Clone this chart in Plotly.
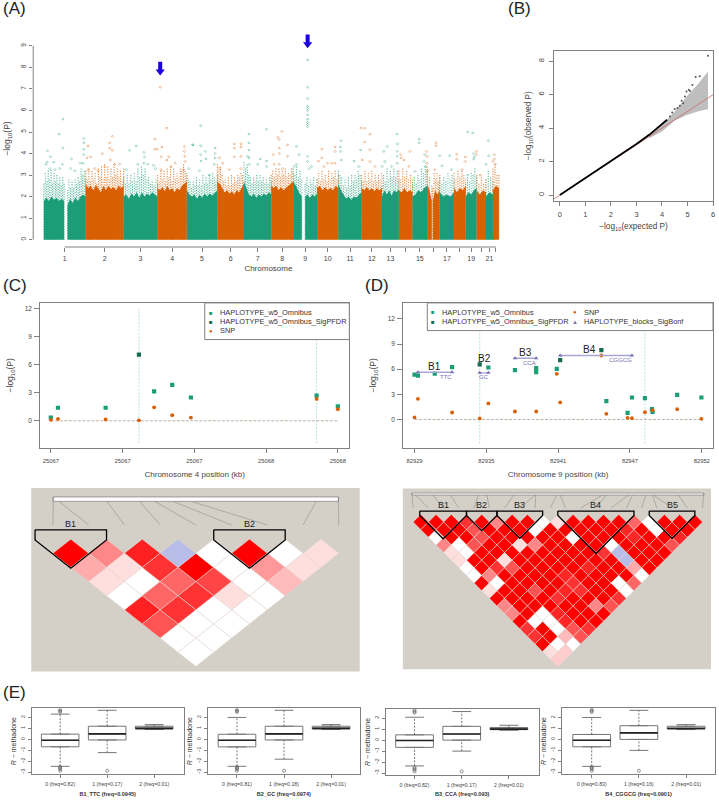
import plotly.graph_objects as go
import numpy as np

W, H = 719, 800
GREEN, ORANGE, DARK, PURPLE = "#1B9E77", "#D95F02", "#14694F", "#7570B3"
TXT, FRAME = "#444444", "#808080"

# ---------- A: Manhattan ----------
chrom_lengths = [252,228,204,176,184,160,164,132,144,128,140,122,102,82,88,76,86,70,66,56,42,36]
chrom_labelled = [1,2,3,4,5,6,7,8,9,10,11,12,13,15,17,19,21]
band_start = [0,142,252,480,684,860,1044,1204,1368,1500,1572,1644,1772,1912,2034,2136,2218,2306,2340,2382,2468,2538,2604,2660,2702]
band_end   = [122,252,480,684,860,1044,1204,1368,1500,1552,1644,1772,1912,2034,2136,2218,2306,2334,2382,2468,2538,2604,2660,2702,2738]
band_chrom = [1,1,2,3,4,5,6,7,8,9,9,10,11,12,13,14,15,16,16,17,18,19,20,21,22]
band_solid = [
 [1.8,1.95,1.8,2.0,1.85,1.95,1.8,1.9,1.8],
 [1.6,1.9,1.7,1.95,1.8,2.0,2.1,2.0],
 [2.6,2.4,2.5,2.3,2.55,2.35,2.2,2.5,2.3,2.5,2.35,2.45,2.3,2.5,2.4,2.5],
 [2.0,2.1,1.9,2.15,2.0,2.2,1.95,2.2,2.0,2.15,2.05,2.2,2.1,2.0],
 [2.4,2.3,2.45,2.25,2.5,2.3,2.4,2.2,2.4,2.3,2.5,2.6,2.7],
 [2.3,2.1,2.0,2.1,1.9,2.1,1.95,2.15,2.0,2.15,2.05,2.2,2.3],
 [2.7,2.6,2.4,2.2,2.3,2.15,2.25,2.1,2.3,2.2,2.4,2.6],
 [2.7,2.4,2.1,2.0,2.15,1.95,2.1,2.0,2.15,2.05,2.2,2.1],
 [2.5,2.4,2.5,2.3,2.45,2.3,2.4,2.5,2.6,2.7],
 [2.7,2.5,2.2,2.0],
 [2.0,2.1,1.95,2.1,2.0,2.15],
 [2.4,2.5,2.3,2.45,2.3,2.4,2.3,2.5,2.4],
 [2.6,2.3,2.1,1.9,2.0,1.85,2.0,1.95,2.1,2.2],
 [2.4,2.3,2.45,2.3,2.4,2.25,2.4,2.3,2.4],
 [2.0,2.3,2.1,2.3,2.05,2.3,2.2,2.35],
 [2.3,2.2,2.4,2.2,2.3,2.2],
 [2.0,2.1,2.3,2.2,2.4,2.5],
 [2.6,2.3,1.8],
 [1.8,2.3,2.1,2.3],
 [2.2,2.0,2.1,2.0,2.2],
 [2.4,2.2,2.4,2.3,2.5],
 [2.0,2.2,2.1,2.3,2.4],
 [2.3,2.1,2.3,2.2],
 [2.0,2.2,2.1],
 [2.3,2.5,2.4],
]
band_fuzz = [
 [2.6,3.1,2.7,3.2,2.8,3.25,2.6,3.1,2.7,3.0,2.6,2.9,2.5,2.9,2.6],
 [2.3,2.8,2.4,2.7,2.4,2.8,2.6,2.9,2.7,3.3,3.0,3.2,2.8],
 [3.2,2.8,3.3,2.7,3.2,2.8,3.1,2.6,3.3,2.9,3.4,2.8,3.5,2.9,3.4,2.8,3.3,2.9,3.5,3.0,3.3,2.9,3.2,2.7,3.3],
 [2.9,2.6,3.0,2.6,3.0,2.7,3.1,2.7,3.3,2.9,3.4,3.0,3.3,2.8,2.9,2.6,2.7,2.5,2.8,2.6],
 [3.0,2.7,3.2,2.8,3.2,2.7,3.3,2.9,3.4,2.7,3.3,2.8,3.1,2.8,3.3,3.2,3.5,3.2,3.0],
 [3.1,2.8,2.7,2.4,2.7,2.5,2.9,2.5,2.8,2.5,3.0,2.6,2.9,2.6,3.0,2.8,3.1,2.9,2.7,3.0],
 [3.5,3.2,3.4,3.0,2.7,2.8,2.5,2.9,2.5,3.0,2.6,2.9,2.7,3.0,2.9,3.1,3.0,2.7],
 [3.6,3.3,3.5,3.0,2.9,2.6,2.9,2.7,3.0,2.7,3.0,2.7,2.9,2.6,2.8,2.6,2.9,2.7],
 [3.0,3.2,2.9,3.3,3.0,3.3,2.9,3.2,3.0,3.3,2.9,3.1,3.0,3.3,3.1],
 [3.3,3.0,3.4,2.9,3.2,2.8],
 [2.6,2.9,2.5,2.8,2.6,2.9,2.5,2.8],
 [2.8,3.1,2.7,3.2,2.8,3.0,2.7,3.2,2.8,3.1,2.9,3.2,2.8,3.0],
 [3.2,3.0,2.9,2.5,2.8,2.4,2.9,2.5,3.0,2.7,3.0,2.8,3.2,3.0,2.7],
 [3.0,2.7,3.2,2.7,3.1,2.8,3.2,2.7,3.0,2.7,3.0,2.8,3.1],
 [2.5,3.0,2.7,3.3,2.8,3.2,2.9,3.3,2.9,3.2,2.8],
 [3.2,2.8,3.3,2.9,3.2,2.8,3.0,2.8],
 [2.6,2.9,2.6,3.0,2.8,3.3,3.1,3.4,3.2],
 [3.4,2.9,2.5],
 [2.4,3.1,2.8,3.1,2.7,3.0],
 [2.9,2.6,2.9,2.7,3.1,2.8,3.0,2.8],
 [3.1,2.8,3.2,2.9,3.2,3.0,2.8],
 [2.6,2.9,2.7,3.1,3.0,3.3,2.9],
 [3.0,2.6,2.9,2.6,2.8],
 [2.8,3.2,2.9,2.7],
 [3.3,3.5,3.0,3.0],
]
green_x = [114,92,114,22,20,40,60,66,12,96,112,36,166,160,240,240,240,240,236,220,186,
 516,556,602,606,602,566,626,660,496,672,
 896,944,896,944,944,946,972,976,1030,1030,1030,1026,872,936,996,
 1234,1234,1234,1226,1234,1302,1340,1340,1286,1340,1236,
 1520,1536,1520,1506,
 1587,1587,1587,1587,1587,1587,1587,1587,1587,1587,1587,1586,1586,1596,1610,
 1788,1784,1786,1790,1866,1896,1906,
 2126,2128,2066,2046,2126,2126,2126,2052,2036,2092,
 2258,2258,2292,2288,2296,2232,
 2382,2442,2396,2452,
 2550,2580,2586,2590,2586,2550,
 2674,2676,2660]
green_y = [5.6,4.9,4.25,4.13,3.6,3.85,3.6,3.25,3.5,3.3,3.5,3.3,3.75,3.3,4.7,4.5,4.2,3.95,3.55,3.55,3.2,
 4.15,4.35,4.05,3.85,3.55,3.5,3.5,3.45,3.25,3.3,
 4.4,5.29,4.4,4.36,3.95,3.65,4.1,3.75,4.25,4.0,3.8,3.5,3.3,3.2,3.0,
 4.9,4.5,4.17,3.87,3.8,3.75,5.13,3.65,3.5,3.4,3.5,
 4.33,3.95,3.5,3.4,
 8.35,7.08,6.55,6.2,6.1,6.0,5.8,5.6,5.45,5.35,5.25,3.87,3.63,3.3,3.4,
 4.6,4.3,4.1,3.7,3.65,3.4,4.17,
 4.9,4.45,4.33,4.1,4.1,3.87,3.55,3.63,3.4,3.4,
 4.67,4.5,3.95,3.63,3.4,3.17,
 3.9,3.9,3.43,3.25,
 5.0,4.95,4.0,3.84,3.74,3.0,
 4.6,3.9,3.5]
orange_x = [266,260,282,352,412,396,396,412,400,306,366,426,456,326,266,
 668,668,682,740,710,706,752,740,846,846,848,850,840,790,766,706,700,
 1056,1076,1146,1146,1146,1186,1186,1186,1186,1116,1056,
 1432,1408,1416,1466,1416,1416,1380,1466,1416,1386,1436,
 1672,1672,1652,1752,1752,1706,1732,1752,1686,
 1908,1930,1930,1962,1962,1916,1962,1992,
 2202,2146,2166,2150,2196,
 2302,2306,2360,2360,2306,2352,2310,
 2484,2484,2536,2536,2516,
 2602,2602,2626,
 2710,2710,2702,2716]
orange_y = [4.35,3.8,3.85,4.0,4.8,4.5,4.25,4.15,3.7,3.3,3.4,3.5,3.5,3.2,3.25,
 4.67,4.2,4.2,5.18,4.3,3.85,3.85,3.7,4.33,4.1,3.87,3.63,3.25,3.55,3.4,3.25,7.08,
 3.8,3.55,4.45,4.25,3.85,4.45,4.3,3.87,3.3,3.25,3.3,
 5.03,4.75,4.65,4.4,4.25,4.0,3.95,3.87,3.5,3.5,3.3,
 4.2,3.8,3.65,4.3,4.1,3.55,3.55,3.55,3.4,
 5.18,5.18,4.53,4.9,4.18,3.7,3.63,3.4,
 4.1,3.95,3.7,3.8,3.4,
 4.1,3.87,4.5,4.36,3.55,3.25,3.2,
 3.97,3.74,3.84,3.63,3.25,
 4.1,3.95,3.0,
 3.95,3.74,3.63,3.5]
arrow_x = [700, 1587]
arrow_y = [7.08, 8.35]

# ---------- B: QQ ----------
qq_line_exp = [0,1,2,3,3.5,4,4.2]
qq_line_obs = [0,1,2,3.05,3.6,4.25,4.5]
qq_pts_exp = [4.31,4.4,4.5,4.61,4.7,4.77,4.83,4.9,4.96,5.05,5.1,5.19,5.32,5.48,5.8]
qq_pts_obs = [4.7,4.93,5.15,5.2,5.33,5.63,5.49,5.89,6.19,6.29,6.22,6.57,7.06,7.1,8.32]
qq_band_exp = [3.5,4,4.5,5,5.4,5.8]
qq_band_hi  = [3.6,4.2,5.0,5.95,6.6,7.38]
qq_band_lo  = [3.4,3.8,4.45,4.8,5.0,5.15]

# ---------- C ----------
c_pos = [25066.75,25066.775,25066.941,25067.057,25067.110,25067.173,25067.238,25067.676,25067.75]
c_hap = [0.35,1.4,1.4,None,3.15,3.85,2.5,2.7,1.55]
c_sig = [None,None,None,7.1,None,None,None,None,None]
c_snp = [0.1,0.2,0.15,0.05,1.45,0.6,0.35,2.35,1.25]
c_vlines = [25067.057,25067.676]
c_ticks = [25066.75,25067,25067.25,25067.5,25067.75]
c_ticktext = ["25067","25067","25067","25068","25068"]

# ---------- D ----------
d_hap_x = [82929.40,82929.67,82931.02,82932.41,82935.31,82937.44,82939.14,82939.14,82940.79,82944.76,82946.46,82946.81,82947.85,82948.41,82948.46,82950.43,82952.37]
d_hap_y = [5.36,5.24,5.48,6.24,6.2,5.88,6.12,5.64,6.04,2.19,0.79,2.62,2.54,1.23,0.91,2.94,2.62]
d_sig_x = [82934.62,82941.06,82944.36]
d_sig_y = [6.56,7.07,8.26]
d_snp_x = [82929.40,82929.67,82932.41,82934.62,82935.31,82937.44,82939.14,82940.79,82941.06,82944.36,82944.76,82946.46,82946.81,82947.85,82948.46,82950.43,82952.37]
d_snp_y = [0.24,2.46,0.83,0.12,1.91,0.95,0.95,5.44,2.03,7.63,0.68,0.2,0.16,0.87,1.11,1.23,0.08]
d_vlines = [82934.62,82947.85]
d_ticks = [82929.4,82935.15,82940.9,82946.65,82952.4]
d_ticktext = ["82929","82935","82941","82947","82952"]
d_block_start = [82929.67,82934.62,82937.44,82941.06]
d_block_end   = [82932.41,82935.31,82939.14,82946.81]
d_block_y     = [5.64,5.56,7.31,7.63]
d_block_name  = ["B1","B2","B3","B4"]
d_block_hap   = ["TTC","GC","CCA","CGGCG"]

# ---------- LD ----------
ld_c = [
 [100,47,87,-1,0,100,0,13],
 [33,13,80,100,0,40,13],
 [13,0,60,73,0,27],
 [0,60,80,13,0],
 [87,80,0,0],
 [67,0,0],
 [0,0],
 [0],
]
ld_c_markers = [-0.49,-0.33,1.01,1.93,2.35,2.86,3.37,6.87,7.49]
ld_c_blocks = [(-1,1,"B1"),(4,6,"B2")]
ld_d = [
 [100,100,100,80,100,47,100,100,0,13,100,100,100,100,60,0,100,100,100],
 [100,100,100,67,100,100,100,0,100,100,100,100,100,85,100,0,100,100],
 [0,100,100,67,100,100,100,100,100,0,100,100,100,85,100,100,85],
 [47,0,67,100,100,13,47,100,100,100,100,0,100,100,100,67],
 [13,0,100,100,100,100,100,100,100,100,80,-1,100,100,100],
 [13,100,100,13,100,100,100,100,100,100,100,-1,100,100],
 [0,100,80,67,100,100,100,100,85,100,100,33,100],
 [0,47,100,100,100,100,85,100,100,100,100,0],
 [100,0,100,100,100,100,80,100,100,0,60],
 [13,100,100,67,100,85,80,100,100,0],
 [100,100,100,100,80,100,100,100,80],
 [47,100,100,100,100,100,47,67],
 [47,100,0,85,100,100,100],
 [100,0,0,85,100,100],
 [80,100,0,67,80],
 [80,100,27,67],
 [100,0,0],
 [13,20],
 [20],
]
ld_d_markers = [-0.57,-0.35,0.79,1.94,3.78,4.34,6.11,7.51,7.55,8.93,9.15,11.92,12.2,13.65,13.91,14.78,15.22,15.28,16.92,18.58]
ld_d_blocks = [(-0.07,3,"B1"),(3,5,"B2"),(5,8,"B3"),(9,14,"B4"),(15,18,"B5")]

# ---------- E ----------
box_titles = ["B1_TTC (freq=0.0945)","B2_GC (freq=0.0974)","B3_CCA (freq=0.093)","B4_CGGCG (freq=0.0901)"]
box_cats = [["0 (freq=0.82)","1 (freq=0.17)","2 (freq=0.01)"],
            ["0 (freq=0.81)","1 (freq=0.18)","2 (freq=0.01)"],
            ["0 (freq=0.82)","1 (freq=0.17)","2 (freq=0.01)"],
            ["0 (freq=0.83)","1 (freq=0.16)","2 (freq=0.01)"]]
box_q1  = [[-0.67,-0.05,0.95],[-0.68,-0.05,0.95],[-0.66,0.0,0.95],[-0.67,0.0,0.95]]
box_med = [[-0.08,0.5,1.0],[-0.08,0.5,1.0],[-0.03,0.55,1.0],[-0.08,0.6,1.0]]
box_q3  = [[0.48,1.2,1.2],[0.47,1.2,1.2],[0.48,1.25,1.15],[0.45,1.25,1.2]]
box_hi  = [[2.3,2.65,1.35],[2.0,2.65,1.35],[2.08,2.6,1.35],[2.0,2.65,1.35]]
box_lo  = [[-2.45,-1.2,0.9],[-2.45,-1.8,0.9],[-2.35,-1.0,0.9],[-2.45,-1.0,0.9]]
box_out_cat = [0,0,0,0,0,0,0,1]
box_out_val = [2.7,2.6,2.5,-2.5,-2.6,-2.7,-2.85,-2.85]

# ---------- layout helpers ----------
def dx(l, r): return [l / W, r / W]
def dy(t, b): return [1 - b / H, 1 - t / H]

fig = go.Figure()
shapes, notes = [], []

def note(px, py, text, size=7, color=TXT, anchor="center", **kw):
    notes.append(dict(x=px / W, y=1 - py / H, xref="paper", yref="paper", text=text, showarrow=False,
                      xanchor=anchor, yanchor="middle", font=dict(size=size, color=color), **kw))

def rgb(a, alpha=1.0):
    a = a.lstrip("#")
    return "rgba(%d,%d,%d,%g)" % (int(a[:2],16), int(a[2:4],16), int(a[4:],16), alpha)

# A: stippled columns up to the read envelope, drawn from the top down so the dots do not line up
comb = {GREEN: ([], []), ORANGE: ([], [])}
for s, e, c, fuz in zip(band_start, band_end, band_chrom, band_fuzz):
    col = GREEN if c % 2 else ORANGE
    for xv, yv in zip(np.linspace(s, e, len(fuz)), fuz):
        comb[col][0].extend([xv, xv, None])
        comb[col][1].extend([yv, 0, None])
for col, (xv, yv) in comb.items():
    fig.add_trace(go.Scatter(x=xv, y=yv, mode="lines", line=dict(color=rgb(col, 0.7), width=1.1, dash="1.2px,1.3px"),
                             xaxis="x", yaxis="y", hoverinfo="skip"))
for s, e, c, sol in zip(band_start, band_end, band_chrom, band_solid):
    col = GREEN if c % 2 else ORANGE
    fig.add_trace(go.Scatter(x=np.linspace(s, e, len(sol)), y=sol, mode="lines", fill="tozeroy",
                             fillcolor=col, line=dict(width=0), xaxis="x", yaxis="y", hoverinfo="skip"))
fig.add_trace(go.Scatter(x=green_x, y=green_y, mode="markers", xaxis="x", yaxis="y",
                         marker=dict(symbol="diamond-open", size=1.7, color=GREEN, opacity=0.75, line=dict(width=0.6))))
fig.add_trace(go.Scatter(x=orange_x, y=orange_y, mode="markers", xaxis="x", yaxis="y",
                         marker=dict(symbol="diamond-open", size=1.7, color=ORANGE, opacity=0.75, line=dict(width=0.6))))
starts = np.cumsum([0] + chrom_lengths)
mids = (starts[:-1] + starts[1:]) / 2
for xv, top in zip(arrow_x, arrow_y):
    fig.add_trace(go.Scatter(x=[xv, xv], y=[top + 1.18, top + 0.73], mode="lines", line=dict(color="#1A00E0", width=4),
                             xaxis="x", yaxis="y", hoverinfo="skip"))
    fig.add_trace(go.Scatter(x=[xv], y=[top + 0.73], mode="markers", marker=dict(symbol="triangle-down", size=8, color="#1A00E0"),
                             xaxis="x", yaxis="y", hoverinfo="skip"))
shapes.append(dict(type="line", xref="x domain", yref="y", x0=0, x1=0, y0=0, y1=9, line=dict(color=FRAME, width=1)))
shapes.append(dict(type="line", xref="x", yref="y domain", x0=mids[0], x1=mids[-1], y0=0, y1=0, line=dict(color=FRAME, width=1)))

# B
fig.add_trace(go.Scatter(x=qq_band_exp + qq_band_exp[::-1], y=qq_band_hi + qq_band_lo[::-1], fill="toself", mode="none",
                         fillcolor="#BEBEBE", xaxis="x2", yaxis="y2", hoverinfo="skip"))
fig.add_trace(go.Scatter(x=[-0.3, 6.1], y=[-0.3, 6.1], mode="lines", line=dict(color="#C86A6A", width=0.8), xaxis="x2", yaxis="y2"))
fig.add_trace(go.Scatter(x=qq_line_exp, y=qq_line_obs, mode="lines", line=dict(color="black", width=1.8), xaxis="x2", yaxis="y2"))
fig.add_trace(go.Scatter(x=qq_pts_exp, y=qq_pts_obs, mode="markers", marker=dict(color="#555555", size=2), xaxis="x2", yaxis="y2"))

# C
def guide(xs, rng, ax, ay, x0, x1):
    xv, yv = [], []
    for v in xs:
        xv += [v, v, None]; yv += [rng[0], rng[1], None]
    fig.add_trace(go.Scatter(x=xv, y=yv, mode="lines", line=dict(color="#A8DACB", width=0.8, dash="2px,1.5px"), xaxis=ax, yaxis=ay))
    fig.add_trace(go.Scatter(x=[x0, x1], y=[0, 0], mode="lines", line=dict(color="#B9A99A", width=0.9, dash="3px,1.5px"), xaxis=ax, yaxis=ay))

guide(c_vlines, (-2.4, 12), "x3", "y3", c_pos[0], c_pos[-1])
sq = dict(symbol="square", size=4.2)
fig.add_trace(go.Scatter(x=c_pos, y=c_hap, mode="markers", marker=dict(color=GREEN, **sq), xaxis="x3", yaxis="y3"))
fig.add_trace(go.Scatter(x=c_pos, y=c_sig, mode="markers", marker=dict(color=DARK, **sq), xaxis="x3", yaxis="y3"))
fig.add_trace(go.Scatter(x=c_pos, y=c_snp, mode="markers", marker=dict(color=ORANGE, size=3.8), xaxis="x3", yaxis="y3"))

# D
guide(d_vlines, (-2.9, 13.9), "x4", "y4", 82929.4, 82952.4)
fig.add_trace(go.Scatter(x=d_hap_x, y=d_hap_y, mode="markers", marker=dict(color=GREEN, **sq), xaxis="x4", yaxis="y4"))
fig.add_trace(go.Scatter(x=d_sig_x, y=d_sig_y, mode="markers", marker=dict(color=DARK, **sq), xaxis="x4", yaxis="y4"))
fig.add_trace(go.Scatter(x=d_snp_x, y=d_snp_y, mode="markers", marker=dict(color=ORANGE, size=3.8), xaxis="x4", yaxis="y4"))
for s, e, y in zip(d_block_start, d_block_end, d_block_y):
    fig.add_trace(go.Scatter(x=[s, e], y=[y, y], mode="lines+markers", xaxis="x4", yaxis="y4",
                             line=dict(color="#A9A6D6", width=1.4), marker=dict(symbol="triangle-up", size=4, color=PURPLE)))
d_name_px = [(436, 367), (486, 358.5), (527, 353), (591, 350)]
d_hap_px = [(447, 377.5), (485, 377.5), (531, 363.5), (622, 360.5)]
for nm, (px, py) in zip(d_block_name, d_name_px):
    note(px, py, nm, size=10, color="#222222")
for nm, (px, py) in zip(d_block_hap, d_hap_px):
    note(px, py, nm, size=6, color=PURPLE)

# legends
def glyph(px, py, ch, col, size):
    note(px, py, ch, size=size, color=col)
def box_legend(x0, x1, y0, y1):
    shapes.append(dict(type="rect", xref="paper", yref="paper", x0=x0/W, x1=x1/W, y0=1-y1/H, y1=1-y0/H,
                       line=dict(color=FRAME, width=1), fillcolor="white", layer="above"))
box_legend(205.3, 350.3, 303.3, 340)
for (py, lab, ch, col) in [(313, "HAPLOTYPE_w5_Omnibus", "■", GREEN), (322, "HAPLOTYPE_w5_Omnibus_SigPFDR", "■", DARK), (331, "SNP", "●", ORANGE)]:
    glyph(212, py, ch, col, 6)
    note(218.5, py, lab, size=7.4, color="#333333", anchor="left")
box_legend(428.5, 715, 303.3, 331)
for (gx, py, lab, ch, col) in [(434.7, 312.5, "HAPLOTYPE_w5_Omnibus", "■", GREEN), (434.7, 322, "HAPLOTYPE_w5_Omnibus_SigPFDR", "■", DARK),
                               (576.7, 312.5, "SNP", "●", ORANGE), (576.7, 322, "HAPLOTYPE_blocks_SigBonf", "▲", PURPLE)]:
    glyph(gx, py, ch, col, 6)
    note(gx + 7, py, lab, size=7.4, color="#333333", anchor="left")

# LD
def ld_color(v):
    if v < 0:
        return "#B8BDE8"
    g = round(255 * (1 - v / 100))
    return "#ff%02x%02x" % (g, g)

def draw_ld(mat, markers, blocks, ax, ay, strip, conn_end, side_k, top_k, label_k):
    groups = {}
    for k, row in enumerate(mat):
        for m, v in enumerate(row):
            cx = m + k / 2
            px_, py_ = groups.setdefault(v, ([], []))
            px_ += [cx, cx + 0.5, cx, cx - 0.5, cx, None]
            py_ += [k - 1, k, k + 1, k, k - 1, None]
    for v, (px_, py_) in groups.items():
        fig.add_trace(go.Scatter(x=px_, y=py_, mode="lines", fill="toself", fillcolor=ld_color(v),
                                 line=dict(color="rgba(225,215,210,0.85)", width=0.6), xaxis=ax, yaxis=ay, hoverinfo="skip"))
    shapes.append(dict(type="rect", xref=ax, yref=ay, x0=markers[0], x1=markers[-1], y0=strip[0], y1=strip[1],
                       fillcolor="white", line=dict(color="#666666", width=0.6)))
    tx, ty, cx_, cy_ = [], [], [], []
    for i, p in enumerate(markers):
        tx += [p, p, None]; ty += [strip[0], strip[1], None]
        cx_ += [p, i - 0.5, None]; cy_ += [strip[1], conn_end, None]
    fig.add_trace(go.Scatter(x=cx_, y=cy_, mode="lines", line=dict(color="#9A9A94", width=0.7), xaxis=ax, yaxis=ay))
    fig.add_trace(go.Scatter(x=tx, y=ty, mode="lines", line=dict(color="#333333", width=0.7), xaxis=ax, yaxis=ay))
    for s, e, name in blocks:
        mid = (s + e) / 2
        fig.add_trace(go.Scatter(x=[s, e, e, mid, s, s], y=[top_k, top_k, side_k, side_k + (e - s), side_k, top_k], mode="lines",
                                 line=dict(color="black", width=1.3), xaxis=ax, yaxis=ay))
        notes.append(dict(x=mid, y=label_k, xref=ax, yref=ay, text=name, showarrow=False,
                          font=dict(size=9, color="#222222")))

for ax, ay in [("x5", "y5"), ("x6", "y6")]:
    shapes.append(dict(type="rect", xref=ax + " domain", yref=ay + " domain", x0=0, x1=1, y0=0, y1=1,
                       fillcolor="#D4D0C8", line=dict(width=0), layer="below"))
draw_ld(ld_c, ld_c_markers, ld_c_blocks, "x5", "y5", (-3.98, -3.67), -2.0, -0.94, -1.66, -2.05)
draw_ld(ld_d, ld_d_markers, ld_d_blocks, "x6", "y6", (-3.8, -3.54), -1.83, -0.87, -1.44, -2.2)

# E
box_geo = [("x7", "y7", 31.7, 184.3, 709.3, 775, -0.608, 2.63, -3.15, 2.82),
           ("x8", "y8", 208.3, 361, 709.3, 775, -0.622, 2.615, -3.15, 2.82),
           ("x9", "y9", 386.7, 540.3, 710, 775.7, -0.613, 2.634, -3.15, 2.82),
           ("x10", "y10", 564, 716.7, 709, 775, -0.62, 2.606, -3.15, 2.85)]
bw = 0.8
for i, g in enumerate(box_geo):
    ax, ay = g[0], g[1]
    whx, why, capx, capy, medx, medy = [], [], [], [], [], []
    for c in range(3):
        whx += [c, c, None, c, c, None]
        why += [box_lo[i][c], box_q1[i][c], None, box_q3[i][c], box_hi[i][c], None]
        capx += [c - bw/4, c + bw/4, None, c - bw/4, c + bw/4, None]
        capy += [box_lo[i][c], box_lo[i][c], None, box_hi[i][c], box_hi[i][c], None]
        medx += [c - bw/2, c + bw/2, None]
        medy += [box_med[i][c]] * 2 + [None]
    fig.add_trace(go.Scatter(x=whx, y=why, mode="lines", line=dict(color="#555555", width=0.8, dash="2px,1.5px"), xaxis=ax, yaxis=ay))
    fig.add_trace(go.Scatter(x=capx, y=capy, mode="lines", line=dict(color="#555555", width=0.8), xaxis=ax, yaxis=ay))
    fig.add_trace(go.Box(x=[0, 1, 2], q1=box_q1[i], median=box_med[i], q3=box_q3[i], lowerfence=box_q1[i], upperfence=box_q3[i],
                         width=bw, line=dict(color="#777777", width=1), fillcolor="white", boxpoints=False, xaxis=ax, yaxis=ay))
    fig.add_trace(go.Scatter(x=medx, y=medy, mode="lines", line=dict(color="#222222", width=1.6), xaxis=ax, yaxis=ay))
    fig.add_trace(go.Scatter(x=box_out_cat, y=box_out_val, mode="markers", xaxis=ax, yaxis=ay,
                             marker=dict(symbol="circle-open", size=3, color="#666666", line=dict(width=0.7))))

# panel letters
for px, py, t in [(1, 9, "(A)"), (507, 9, "(B)"), (1, 286, "(C)"), (364, 286, "(D)"), (1, 693, "(E)")]:
    note(px, py, t, size=17, color="#222222", anchor="left")

base = dict(showgrid=False, zeroline=False)
def tk(size=6.5, length=4, stand=2):
    return dict(ticks="outside", ticklen=length, tickwidth=1, tickcolor=FRAME, ticklabelstandoff=stand,
                tickfont=dict(size=size, color=TXT))
frame = dict(showline=True, mirror=True, linecolor=FRAME, linewidth=1)
hidden = dict(visible=False, showgrid=False, zeroline=False)
def ttl(text, size, standoff, color=TXT):
    return dict(text=text, font=dict(size=size, color=color), standoff=standoff)

lab_idx = [c - 1 for c in chrom_labelled]
layout = dict(
    width=W, height=H, margin=dict(l=0, r=0, t=0, b=0), paper_bgcolor="white", plot_bgcolor="rgba(0,0,0,0)",
    showlegend=False, hovermode=False, font=dict(family="Liberation Sans, Arial, sans-serif", color=TXT),
    xaxis=dict(domain=dx(33.3, 505), range=[-64, 2766], anchor="y", tickmode="array", tickvals=mids[lab_idx].tolist(),
               ticktext=[str(c) for c in chrom_labelled],
               minor=dict(tickmode="array", tickvals=[m for i, m in enumerate(mids.tolist()) if i not in lab_idx],
                          ticks="outside", ticklen=4, tickwidth=1, tickcolor=FRAME),
               title=ttl("Chromosome", 8, 4), **base, **tk(7, 4, 1)),
    yaxis=dict(domain=dy(30, 247.3), range=[-0.34, 9.74], anchor="x", tickmode="array", tickvals=list(range(10)), tickangle=-90,
               title=ttl("−log<sub>10</sub>(P)", 8.5, 7), **base, **tk(6.5, 3, 1)),
    xaxis2=dict(domain=dx(555.3, 715.3), range=[-0.24, 6.01], anchor="y2", tickmode="array", tickvals=list(range(7)),
                title=ttl("−log<sub>10</sub>(expected P)", 8.2, 5), **base, **tk(7.5, 4, 2), **frame),
    yaxis2=dict(domain=dy(50.7, 201), range=[-0.34, 8.63], anchor="x2", tickmode="array", tickvals=[0,2,4,6,8], tickangle=-90,
                title=ttl("−log<sub>10</sub>(observed P)", 8.2, 3), **base, **tk(7.5, 4, 2), **frame),
    xaxis3=dict(domain=dx(40.3, 350.3), range=[25066.713, 25067.79], anchor="y3", tickmode="array", tickvals=c_ticks, ticktext=c_ticktext,
                title=ttl("Chromosome 4 position (kb)", 8, 8), **base, **tk(5.8, 4, 3), **frame),
    yaxis3=dict(domain=dy(303.3, 448.3), range=[-2.89, 12.65], anchor="x3", tickmode="array", tickvals=[0,3,6,9,12],
                title=ttl("−log<sub>10</sub>(P)", 8.5, 9), **base, **tk(6.5, 5, 1), **frame),
    xaxis4=dict(domain=dx(404.3, 715), range=[82928.49, 82953.3], anchor="y4", tickmode="array", tickvals=d_ticks, ticktext=d_ticktext,
                title=ttl("Chromosome 9 position (kb)", 8, 8), **base, **tk(5.8, 4, 3), **frame),
    yaxis4=dict(domain=dy(303.3, 448.3), range=[-3.37, 13.9], anchor="x4", tickmode="array", tickvals=[0,3,6,9,12],
                title=ttl("−log<sub>10</sub>(P)", 8.5, 9), **base, **tk(6.5, 5, 1), **frame),
    xaxis5=dict(domain=dx(31.3, 360.7), range=[-1.108, 8.085], anchor="y5", **hidden),
    yaxis5=dict(domain=dy(488.7, 672.3), range=[8.36, -4.61], anchor="x5", **hidden),
    xaxis6=dict(domain=dx(404, 713), range=[-1.179, 19.06], anchor="y6", **hidden),
    yaxis6=dict(domain=dy(489, 670), range=[19.3, -4.41], anchor="x6", **hidden),
    shapes=shapes, annotations=notes,
)
for i, g in enumerate(box_geo):
    n = g[0][1:]
    layout["xaxis" + n] = dict(domain=dx(g[2], g[3]), range=[g[6], g[7]], anchor="y" + n, tickmode="array", tickvals=[0, 1, 2], ticktext=box_cats[i],
                               title=ttl("<b>%s</b>" % box_titles[i], 5.5, 5, "#333333"), **base, **tk(5.2, 3, 2), **frame)
    layout["yaxis" + n] = dict(domain=dy(g[4], g[5]), range=[g[8], g[9]], anchor="x" + n, tickmode="array", tickvals=[-3,-2,-1,0,1,2], tickangle=-90,
                               title=ttl("<i>R</i> − methadone", 7, 2, "#333333"), **base, **tk(5.2, 3, 1), **frame)
fig.update_layout(**layout)
fig.write_html("out.html", config=dict(displayModeBar=False),
               post_script="document.body.style.margin='0';document.documentElement.style.overflow='hidden';")
